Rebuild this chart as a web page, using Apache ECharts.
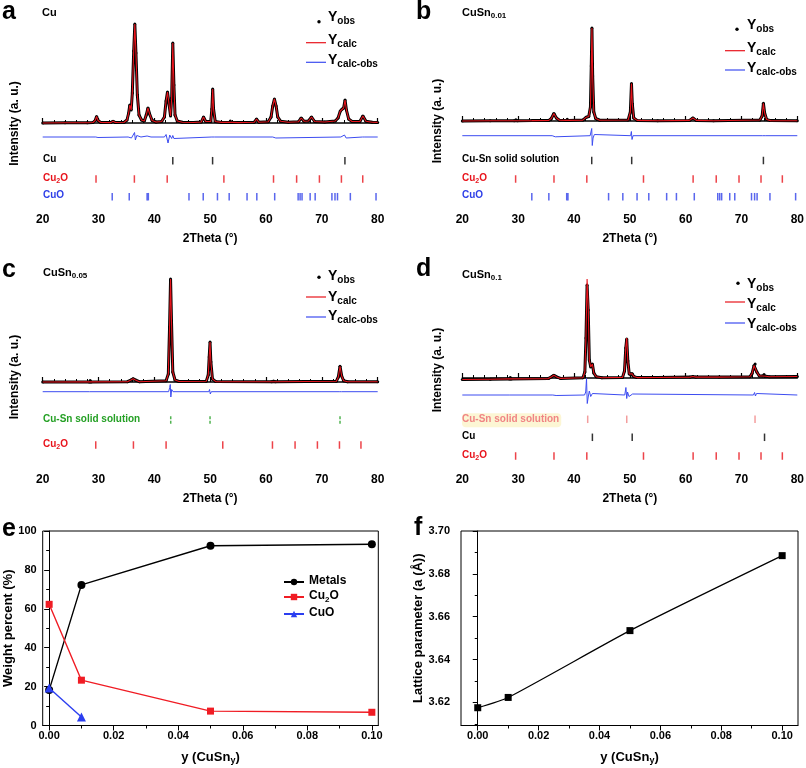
<!DOCTYPE html>
<html><head><meta charset="utf-8">
<script src="https://cdn.jsdelivr.net/npm/echarts@6/dist/echarts.min.js"></script>
<style>html,body{margin:0;padding:0;background:#fff}#c{width:806px;height:768px}</style>
</head><body><div id="c"></div>
<script>
// ---------------- DATA ----------------
// XRD profiles: [2theta, intensity (a.u.)]
var profA = [[20,0],[24,0.3],[28,0.2],[29.0,0.5],[29.4,2.5],[29.65,6.5],[29.9,2.5],[30.4,0.5],[32.2,0.4],[32.6,1.8],[33.0,0.5],[34.6,0.8],[35.1,3],[35.4,10],[35.6,18],[35.85,13],[36.05,30],[36.3,72],[36.5,99],[36.7,70],[36.95,28],[37.25,8],[37.7,3],[38.2,2],[38.55,8],[38.85,15],[39.15,9],[39.6,2.5],[40.3,1],[41.3,1.5],[41.8,6],[42.1,22],[42.35,31],[42.6,20],[42.9,7],[43.1,25],[43.3,80],[43.5,38],[43.7,8],[44.1,2],[45,0.8],[47,0.5],[48.4,1],[48.8,6],[49.2,1.5],[50.1,1.5],[50.3,14],[50.45,34],[50.6,14],[50.9,1.5],[52,0.6],[53.3,0.6],[53.6,2],[53.9,0.6],[55,0.4],[57.9,0.8],[58.3,4],[58.7,0.8],[60.4,1.2],[60.9,6],[61.2,17],[61.5,24],[61.8,17],[62.1,6],[62.6,1.8],[64,0.8],[65.8,1.2],[66.3,5],[66.8,1.8],[67.6,2],[68.15,6],[68.7,1.5],[70.5,1],[72.4,2],[72.9,5],[73.3,12],[73.6,14],[73.9,15],[74.15,23],[74.4,13],[74.8,4],[75.4,1.5],[76.8,1.5],[77.35,7],[77.9,1.8],[79,0.8],[80,0.6]];
var diffA = [[20,-14],[29.5,-14],[29.7,-13],[29.9,-14.5],[30.2,-14],[35.3,-14],[35.6,-12.5],[35.9,-15],[36.2,-12],[36.45,-9.5],[36.6,-17],[36.85,-12.5],[37.2,-14.5],[37.6,-14],[38.7,-13],[39.0,-15],[39.4,-14],[41.8,-14],[42.1,-11.5],[42.45,-20],[42.75,-12],[43.1,-15.5],[43.3,-12.5],[43.5,-15.5],[43.8,-14],[50.3,-14],[50.45,-12],[50.6,-15.5],[50.8,-14],[61.2,-14],[61.45,-12.5],[61.75,-15],[62.1,-14],[73.4,-14],[73.7,-16],[74.05,-12],[74.35,-15],[74.7,-14],[77.3,-14],[77.5,-13],[77.7,-14],[80,-14]];

var profB = [[20,0],[25,0.2],[29.3,0.3],[29.6,1.2],[29.9,0.3],[32.5,0.4],[35.5,0.6],[35.95,2.5],[36.4,7.5],[36.85,3],[37.4,0.8],[38.5,0.6],[38.8,1.8],[39.1,0.6],[41.6,0.9],[42.2,3.8],[42.65,4.5],[42.95,14],[43.1,55],[43.22,93],[43.35,45],[43.55,9],[43.9,2.5],[44.6,0.8],[49.7,1],[50.1,9],[50.3,37.5],[50.45,17],[50.7,3],[51.3,0.6],[55,0.3],[60.7,0.6],[61.3,3],[61.9,0.6],[65,0.3],[73.3,1],[73.7,5],[73.93,17.7],[74.15,8],[74.5,1.5],[75.2,0.4],[80,0.3]];
var diffB = [[20,-14.7],[36.1,-14.7],[36.35,-12.8],[36.65,-15.8],[37.0,-14.7],[42.9,-14.7],[43.08,-10],[43.18,-7.5],[43.28,-24.5],[43.42,-17],[43.65,-13.5],[44,-14.7],[50.15,-14.7],[50.28,-10.5],[50.4,-18.5],[50.58,-14.7],[73.75,-14.7],[73.92,-12.8],[74.1,-16],[74.35,-14.7],[80,-14.7]];

var profC = [[20,0],[28.35,0.1],[28.5,1.5],[28.65,0.1],[35.2,0.3],[35.8,2],[36.2,3.3],[36.6,2],[37.3,0.3],[42.1,1.2],[42.5,8],[42.72,55],[42.9,103],[43.08,58],[43.3,10],[43.7,2],[44.4,0.5],[49.3,0.8],[49.65,7],[49.82,25],[49.97,40],[50.12,20],[50.4,3],[51,0.4],[61.0,0.3],[61.35,1],[61.7,0.3],[72.6,0.8],[72.95,5],[73.25,15.7],[73.55,6],[73.9,1.2],[74.6,0.3],[80,0.2]];
var diffC = [[20,-9.7],[28.4,-9.7],[28.5,-8.8],[28.6,-9.7],[42.55,-9.7],[42.75,-5.5],[42.85,-2.5],[42.95,-15],[43.1,-7.5],[43.35,-9.7],[49.75,-9.7],[49.88,-7.5],[50.02,-12],[50.2,-9.7],[73.1,-9.7],[73.3,-10.8],[73.5,-9.7],[80,-9.7]];

var obsD = [[20,-1.5],[25,-1.2],[28.45,-0.9],[28.6,0.6],[28.75,-0.9],[35.4,-0.6],[36.0,1.3],[36.4,2.8],[36.9,1.1],[37.6,-0.4],[41.6,0.2],[41.95,6],[42.15,40],[42.35,93],[42.55,68],[42.75,18],[43.0,11],[43.3,14],[43.55,5],[44,1.2],[45,0.3],[48.7,0.6],[49.05,7],[49.28,30],[49.45,39],[49.65,17],[49.9,4],[50.2,3],[50.42,4.3],[50.7,1.5],[51.3,0.4],[55,0.5],[60.8,0.9],[61.3,1.5],[61.8,0.9],[66,0.9],[71.5,1.2],[71.9,4.5],[72.25,12.5],[72.45,14],[72.75,6],[73.2,2],[73.75,2],[74.05,3.5],[74.35,1.8],[75,1.3],[80,1.5]];
var calcD = [[20,-1.5],[25,-1.2],[28.45,-0.9],[28.6,-0.5],[28.75,-0.9],[35.4,-0.6],[36.0,1.3],[36.4,2.8],[36.9,1.1],[37.6,-0.4],[41.6,0.2],[41.95,6],[42.15,42],[42.35,99],[42.55,72],[42.75,18],[43.0,11],[43.3,14],[43.55,5],[44,1.2],[45,0.3],[48.7,0.6],[49.05,7],[49.28,31],[49.45,40],[49.65,17],[49.9,4],[50.2,3],[50.42,4.3],[50.7,1.5],[51.3,0.4],[55,0.5],[60.8,0.9],[61.3,1.5],[61.8,0.9],[66,0.9],[71.5,1.2],[71.9,4.5],[72.25,12.5],[72.45,14],[72.75,6],[73.2,2],[73.75,2],[74.05,3.5],[74.35,1.8],[75,1.3],[80,1.5]];
var diffD = [[20,-17],[28.5,-17],[28.6,-16],[28.7,-17],[36.2,-17],[36.5,-16],[36.8,-17.5],[41.9,-17],[42.1,-14],[42.25,-0.5],[42.38,-25.5],[42.55,-19],[42.75,-13],[43.0,-18.5],[43.3,-15.5],[43.6,-17],[49.1,-17],[49.3,-9.5],[49.45,-20.5],[49.6,-14],[49.85,-18.5],[50.2,-17],[50.5,-16],[50.8,-17],[72.15,-17],[72.35,-14.5],[72.5,-18],[72.7,-15.5],[72.95,-17],[80,-17]];

// Bragg reflection positions (2theta)
var braggCu = [43.30, 50.43, 74.13];
var braggCu2O = [29.55, 36.42, 42.30, 52.45, 61.34, 65.48, 69.56, 73.50, 77.32];
var braggCu2OC = [29.5, 36.25, 42.1, 52.25, 61.15, 65.2, 69.2, 73.15, 77.0];
var braggCuO = [32.45, 35.5, 38.7, 38.92, 46.2, 48.75, 51.3, 53.4, 56.6, 58.35, 61.55, 65.75, 66.1, 66.45, 67.9, 68.8, 71.8, 72.35, 72.8, 75.1, 79.7];
var braggSn01 = [43.18, 50.34, 73.93];
var braggSn05 = [42.93, 49.97, 73.25];
var braggSn10 = [42.46, 49.45, 72.43];

// Panel e: weight percent vs y
var yVals = [0, 0.01, 0.05, 0.10];
var metals = [18.2, 72.3, 92.4, 93.2];
var cu2o = [62.3, 23.3, 7.4, 6.8];
var cuoY = [0, 0.01];
var cuo = [19.3, 4.4];

// Panel f: lattice parameter
var lattice = [3.6175, 3.6223, 3.6535, 3.6885];

// Tick values
var yLabelTicks = [0, 0.02, 0.04, 0.06, 0.08, 0.10];
var yMinorTicks = [0.01, 0.03, 0.05, 0.07, 0.09];
var latLabelTicks = [3.62, 3.64, 3.66, 3.68, 3.70];
var latMinorTicks = [3.61, 3.63, 3.65, 3.67, 3.69];

// ---------------- CHART ----------------
var FF = '"Liberation Sans", Arial, Helvetica, sans-serif';
var RED = '#e8141c', BLUE = '#2f40e8', GREEN = '#25a025', SALMON = '#f08484';
var DASH = 'path://M0 0H2V3H0ZM0 4.5H2V7.5H0Z';

function pair(xs, ys) { return xs.map(function (x, i) { return [x, ys[i]]; }); }

var panels = [
  { g: 0, min: -85, max: 103, obs: profA, calc: profA, diff: diffA,
    rows: [{ pos: braggCu, y: -37.7, c: '#000' }, { pos: braggCu2O, y: -56, c: RED }, { pos: braggCuO, y: -73.7, c: BLUE }] },
  { g: 1, min: -87, max: 101, obs: profB, calc: profB, diff: diffB,
    rows: [{ pos: braggSn01, y: -39.5, c: '#000' }, { pos: braggCu2O, y: -58, c: RED }, { pos: braggCuO, y: -75.7, c: BLUE }] },
  { g: 2, min: -86, max: 107, obs: profC, calc: profC, diff: diffC,
    rows: [{ pos: braggSn05, y: -38, c: GREEN, dash: true }, { pos: braggCu2OC, y: -63, c: RED }] },
  { g: 3, min: -90, max: 103, obs: obsD, calc: calcD, diff: diffD,
    rows: [{ pos: braggSn10, y: -41.3, c: SALMON }, { pos: braggCu, y: -59.3, c: '#000' }, { pos: braggCu2O, y: -78, c: RED }] }
];

var grids = [
  { left: 42.7, right: 428.3, top: 20, bottom: 560 },
  { left: 462.3, right: 8.7, top: 20, bottom: 560 },
  { left: 42.7, right: 428.3, top: 275, bottom: 300 },
  { left: 462.3, right: 8.7, top: 275, bottom: 300 },
  { left: 42.7, right: 427.7, top: 531, bottom: 42.5, show: true, borderColor: '#000', borderWidth: 1 },
  { left: 461, right: 8, top: 531, bottom: 42.5, show: true, borderColor: '#000', borderWidth: 1 }
].map(function (g) { g.outerBoundsMode = 'none'; g.containLabel = false; return g; });

var xAxes = [], yAxes = [], series = [];
var lblStyle = { color: '#000', fontWeight: 'bold', fontFamily: FF };

panels.forEach(function (p) {
  xAxes.push({
    gridIndex: p.g, type: 'value', min: 20, max: 80, interval: 10,
    axisLine: { lineStyle: { color: '#000', width: 1.5 } },
    axisTick: { inside: true, length: 5, lineStyle: { color: '#000', width: 1.2 } },
    minorTick: { show: true, splitNumber: 5, length: 3, lineStyle: { color: '#000', width: 1 } },
    axisLabel: Object.assign({ fontSize: 12, margin: 6 }, lblStyle),
    splitLine: { show: false }, minorSplitLine: { show: false },
    name: '2Theta (°)', nameLocation: 'middle', nameGap: 25,
    nameTextStyle: Object.assign({ fontSize: 12 }, lblStyle)
  });
  yAxes.push({ gridIndex: p.g, type: 'value', min: p.min, max: p.max, show: false, splitLine: { show: false } });
  series.push({ type: 'line', xAxisIndex: p.g, yAxisIndex: p.g, data: p.obs, symbol: 'circle', symbolSize: 3,
    showSymbol: true, showAllSymbol: true, itemStyle: { color: '#000' }, lineStyle: { color: '#000', width: 3 }, z: 2, silent: true });
  series.push({ type: 'line', xAxisIndex: p.g, yAxisIndex: p.g, data: p.calc, symbol: 'none',
    lineStyle: { color: RED, width: 1.1 }, z: 3, silent: true });
  series.push({ type: 'line', xAxisIndex: p.g, yAxisIndex: p.g, data: p.diff, symbol: 'none',
    lineStyle: { color: '#3c4cf0', width: 1 }, z: 3, silent: true });
  p.rows.forEach(function (r) {
    series.push({ type: 'scatter', xAxisIndex: p.g, yAxisIndex: p.g,
      data: r.pos.map(function (v) { return [v, r.y]; }),
      symbol: r.dash ? DASH : 'rect', symbolSize: [1.5, 7.5], itemStyle: { color: r.c }, silent: true, z: 4 });
  });
});

var richName = { m: { fontSize: 13, fontWeight: 'bold', fontFamily: FF, color: '#000', lineHeight: 15, verticalAlign: 'top' },
                 s: { fontSize: 9, fontWeight: 'bold', fontFamily: FF, color: '#000', lineHeight: 6, verticalAlign: 'bottom' } };
function mainX(g, min, max) {
  return { gridIndex: g, type: 'value', min: min, max: max, position: 'bottom',
    axisLine: { lineStyle: { color: '#000', width: 1 } },
    axisTick: { customValues: yLabelTicks, length: 5, lineStyle: { color: '#000' } },
    axisLabel: Object.assign({ customValues: yLabelTicks, fontSize: 11, margin: 5,
      formatter: function (v) { return v.toFixed(2); } }, lblStyle),
    splitLine: { show: false },
    name: '{m|y (CuSn}{s|y}{m|)}', nameLocation: 'middle', nameGap: 25,
    nameTextStyle: { rich: richName } };
}
function minorX(g, min, max) {
  return { gridIndex: g, type: 'value', min: min, max: max, position: 'bottom',
    axisLine: { show: false }, axisTick: { customValues: yMinorTicks, length: 3, lineStyle: { color: '#000' } },
    axisLabel: { show: false, customValues: yMinorTicks }, splitLine: { show: false } };
}
xAxes.push(mainX(4, -0.002, 0.102));   // 4
xAxes.push(minorX(4, -0.002, 0.102));  // 5
xAxes.push(mainX(5, -0.0055, 0.1052)); // 6
xAxes.push(minorX(5, -0.0055, 0.1052)); // 7

yAxes.push({ gridIndex: 4, type: 'value', min: 0, max: 100, interval: 20,
  axisLine: { show: true, lineStyle: { color: '#000', width: 1 } },
  axisTick: { show: true, length: 5, lineStyle: { color: '#000' } },
  minorTick: { show: true, splitNumber: 2, length: 3, lineStyle: { color: '#000' } },
  axisLabel: Object.assign({ fontSize: 11, margin: 6 }, lblStyle),
  splitLine: { show: false }, minorSplitLine: { show: false },
  name: 'Weight percent (%)', nameLocation: 'middle', nameGap: 28,
  nameTextStyle: Object.assign({ fontSize: 13 }, lblStyle) }); // 4
yAxes.push({ gridIndex: 5, type: 'value', min: 3.6092, max: 3.70,
  axisLine: { show: true, lineStyle: { color: '#000', width: 1 } },
  axisTick: { show: true, customValues: latLabelTicks, length: 5, lineStyle: { color: '#000' } },
  axisLabel: Object.assign({ customValues: latLabelTicks, fontSize: 11, margin: 11,
    formatter: function (v) { return v.toFixed(2); } }, lblStyle),
  splitLine: { show: false },
  name: 'Lattice parameter (a (Å))', nameLocation: 'middle', nameGap: 34,
  nameTextStyle: Object.assign({ fontSize: 13 }, lblStyle) }); // 5
yAxes.push({ gridIndex: 5, type: 'value', min: 3.6092, max: 3.70, position: 'left',
  axisLine: { show: false }, axisTick: { show: true, customValues: latMinorTicks, length: 3, lineStyle: { color: '#000' } },
  axisLabel: { show: false, customValues: latMinorTicks }, splitLine: { show: false } }); // 6

series.push({ name: 'Metals', type: 'line', xAxisIndex: 4, yAxisIndex: 4, data: pair(yVals, metals),
  symbol: 'circle', symbolSize: 8, itemStyle: { color: '#000' }, lineStyle: { color: '#000', width: 1.4 }, z: 3 });
series.push({ name: 'Cu2O', type: 'line', xAxisIndex: 4, yAxisIndex: 4, data: pair(yVals, cu2o),
  symbol: 'rect', symbolSize: 7, itemStyle: { color: '#f01c24' }, lineStyle: { color: '#f01c24', width: 1.4 }, z: 4 });
series.push({ name: 'CuO', type: 'line', xAxisIndex: 4, yAxisIndex: 4, data: pair(cuoY, cuo),
  symbol: 'triangle', symbolSize: 9, itemStyle: { color: '#2b3ef0' }, lineStyle: { color: '#2b3ef0', width: 1.4 }, z: 5 });
series.push({ type: 'line', xAxisIndex: 6, yAxisIndex: 5, data: pair(yVals, lattice), smooth: 0.2,
  symbol: 'rect', symbolSize: 7, itemStyle: { color: '#000' }, lineStyle: { color: '#000', width: 1.2 }, z: 3 });

// ---------------- TEXT / LEGENDS (graphic) ----------------
function rich(size, sub, subLH) {
  return function (color) {
    return { m: { font: 'bold ' + size + 'px ' + FF, fill: color, lineHeight: size + 2, verticalAlign: 'top' },
             s: { font: 'bold ' + sub + 'px ' + FF, fill: color, lineHeight: subLH, verticalAlign: 'bottom' } };
  };
}
var rTitle = rich(11, 8, 6), rRow = rich(10, 7, 5), rLeg = rich(14, 10, 6);
function rtext(x, y, text, rf, color, extra) {
  var st = { text: text, x: 0, y: 0, align: 'left', verticalAlign: 'top', textAlign: 'left', textVerticalAlign: 'top',
             fill: color, rich: rf(color) };
  if (extra) Object.assign(st, extra);
  return { type: 'text', x: x, y: y, silent: true, z: 100, style: st };
}
function letter(x, y, t) {
  return { type: 'text', x: x, y: y, silent: true, z: 100,
    style: { text: t, font: 'bold 25px ' + FF, fill: '#000', align: 'left', verticalAlign: 'middle', textAlign: 'left', textVerticalAlign: 'middle' } };
}
function hline(x1, x2, y, c) {
  return { type: 'line', silent: true, z: 100, shape: { x1: x1, y1: y, x2: x2, y2: y }, style: { stroke: c, lineWidth: 1.2 } };
}
function dot(x, y) { return { type: 'circle', silent: true, z: 100, shape: { cx: x, cy: y, r: 1.7 }, style: { fill: '#000' } }; }
function vtext(x, y, t) {
  return { type: 'text', x: x, y: y, rotation: Math.PI / 2, silent: true, z: 100,
    style: { text: t, font: 'bold 12px ' + FF, fill: '#000', align: 'center', verticalAlign: 'middle', textAlign: 'center', textVerticalAlign: 'middle' } };
}
function legendXRD(xd, xl, xt, tops, yd, ly1, ly2) {
  return [dot(xd, yd), rtext(xt, tops[0], '{m|Y}{s|obs}', rLeg, '#000'),
          hline(xl, xl + 20, ly1, RED), rtext(xt, tops[1], '{m|Y}{s|calc}', rLeg, '#000'),
          hline(xl, xl + 20, ly2, '#3c4cf0'), rtext(xt, tops[2], '{m|Y}{s|calc-obs}', rLeg, '#000')];
}

var elements = [
  letter(2, 12.5, 'a'), letter(416, 12.5, 'b'), letter(2, 270.5, 'c'), letter(416, 269.5, 'd'),
  letter(2, 529, 'e'), letter(414, 528, 'f'),
  rtext(42, 7, '{m|Cu}', rTitle, '#000'),
  rtext(462, 7, '{m|CuSn}{s|0.01}', rTitle, '#000'),
  rtext(43, 267, '{m|CuSn}{s|0.05}', rTitle, '#000'),
  rtext(462, 269, '{m|CuSn}{s|0.1}', rTitle, '#000'),
  rtext(43, 154.7, '{m|Cu}', rRow, '#000'),
  rtext(43, 173, '{m|Cu}{s|2}{m|O}', rRow, RED),
  rtext(43, 190.7, '{m|CuO}', rRow, BLUE),
  rtext(462, 154.5, '{m|Cu-Sn solid solution}', rRow, '#000'),
  rtext(462, 173, '{m|Cu}{s|2}{m|O}', rRow, RED),
  rtext(462, 190.7, '{m|CuO}', rRow, BLUE),
  rtext(43, 414, '{m|Cu-Sn solid solution}', rRow, GREEN),
  rtext(43, 439, '{m|Cu}{s|2}{m|O}', rRow, RED),
  rtext(462, 413.3, '{m|Cu-Sn solid solution}', rRow, SALMON, { backgroundColor: 'rgba(252,244,205,0.85)', padding: [1, 2, 1, 0], borderRadius: 4 }),
  rtext(462, 431.3, '{m|Cu}', rRow, '#000'),
  rtext(462, 450, '{m|Cu}{s|2}{m|O}', rRow, RED),
  vtext(15, 123.5, 'Intensity (a. u.)'), vtext(438, 121, 'Intensity (a. u.)'),
  vtext(15, 377, 'Intensity (a. u.)'), vtext(438, 370, 'Intensity (a. u.)')
];
elements = elements
  .concat(legendXRD(319, 306, 328, [10, 33, 53], 21.7, 42.7, 62.3))
  .concat(legendXRD(737, 725, 747, [18, 41, 61], 29.3, 50.7, 70))
  .concat(legendXRD(319, 306, 328, [269, 290, 309.5], 277.3, 297, 317))
  .concat(legendXRD(738, 725, 747, [277, 297, 317], 283.3, 302, 323));

var chart = echarts.init(document.getElementById('c'), null, { renderer: 'canvas' });
chart.setOption({
  animation: false,
  backgroundColor: '#fff',
  textStyle: { fontFamily: FF },
  grid: grids,
  xAxis: xAxes,
  yAxis: yAxes,
  legend: {
    orient: 'vertical', left: 278, top: 570, itemWidth: 20, itemHeight: 8, itemGap: 3,
    data: ['Metals', 'Cu2O', 'CuO'], selectedMode: false,
    formatter: function (n) { return n === 'Cu2O' ? '{m|Cu}{s|2}{m|O}' : '{m|' + n + '}'; },
    textStyle: { color: '#000', rich: {
      m: { fontSize: 12, fontWeight: 'bold', fontFamily: FF, color: '#000', lineHeight: 14, verticalAlign: 'top' },
      s: { fontSize: 8, fontWeight: 'bold', fontFamily: FF, color: '#000', lineHeight: 5, verticalAlign: 'bottom' } } }
  },
  series: series,
  graphic: { elements: elements }
});
</script></body></html>
